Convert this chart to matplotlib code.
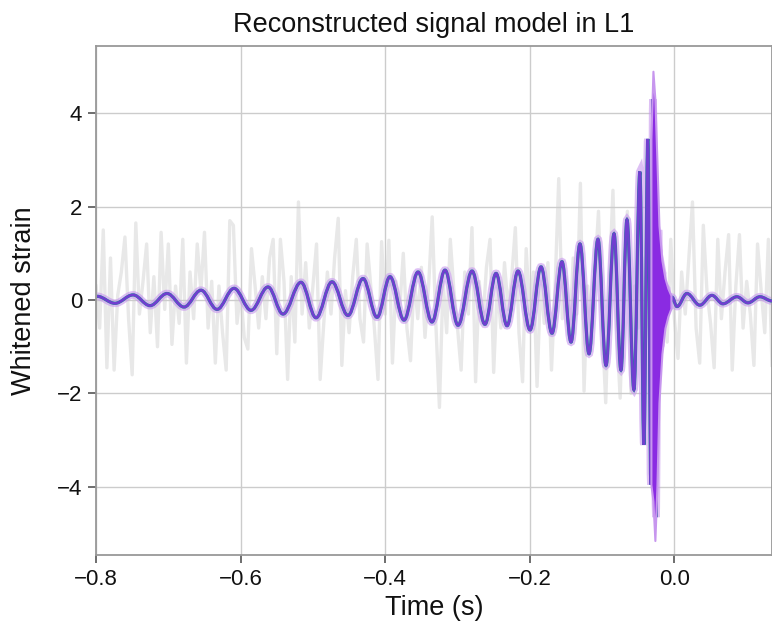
import matplotlib
matplotlib.use("Agg")
import matplotlib.pyplot as plt
import numpy as np
from matplotlib.path import Path
from matplotlib.patches import PathPatch

plt.rcParams['font.family'] = ['Liberation Sans', 'DejaVu Sans']

# whitened L1 data, one value every 5 ms from -0.8 s
data_t0 = -0.8
data_dt = 0.005
data_strain = [
    0.3, -0.6, 1.5, -1.45, 0.9, -1.5, 0.1, 0.6, 1.35, -0.4,
    -1.6, 1.65, -0.3, 0.4, 1.2, -0.7, 0.5, -1.0, 1.45, -0.2,
    1.2, -0.95, 0.3, -0.5, 1.3, -1.35, 0.6, -0.4, 1.2, 0.2,
    1.45, -0.6, 0.4, -1.35, 0.3, -0.7, -1.5, 1.7, 1.6, -0.5,
    0.2, -0.8, -1.05, 1.1, 0.3, -0.6, 0.5, -0.4, 0.9, 1.3,
    -1.15, 1.3, 0.4, -1.7, 0.5, -0.9, 2.1, -0.3, 0.8, -0.6,
    0.3, 1.2, -1.7, -0.5, 0.6, -0.3, 0.9, 1.75, -1.4, 0.2,
    -0.7, 0.5, 1.3, -0.4, -0.9, 1.2, 0.3, -0.6, -1.7, 1.25,
    -0.3, 1.28, -1.35, 0.4, -0.2, 1.0, -0.6, -1.3, 0.5, -0.4,
    0.7, -0.8, 0.3, 1.78, -0.5, -2.3, 0.4, -0.7, 1.3, 0.2,
    -0.6, -1.5, 0.6, -0.3, 1.55, -1.75, 0.4, -0.5, 0.7, 1.3,
    -1.55, 0.3, -0.6, 0.8, -0.2, 0.5, 1.55, -0.7, -1.75, 1.1,
    -0.3, 0.6, -1.85, 0.4, -0.5, 0.8, -1.5, 0.3, 2.6, -0.4,
    0.5, -0.8, 0.9, -0.3, 2.5, -1.95, 0.3, -0.7, 0.6, 1.9,
    -0.5, -2.2, 0.4, 2.35, -0.6, -2.1, 0.5, 1.9, -2.0, 0.3,
    -0.6, 0.9, -0.8, 0.4, -0.3, 1.0, -0.5, 0.6, -0.9, 1.3,
    -0.4, -1.25, 0.6, -0.3, 0.9, 2.1, -0.6, -1.35, 1.6, 0.2,
    -0.5, -1.45, 1.3, -0.4, 0.6, 1.4, -1.5, 0.3, 1.4, -0.6,
    0.4, -0.3, -1.4, 1.2, 0.2, -0.7, 1.3, -1.4,
]

# turning points of the reconstructed waveform (time s, whitened strain)
peak_t = [
    -0.7986, -0.7737, -0.7488, -0.7253, -0.7018, -0.6783, -0.6548, -0.6326,
    -0.6091, -0.5856, -0.5621, -0.5414, -0.5165, -0.4957, -0.4736, -0.4515,
    -0.4307, -0.4113, -0.3934, -0.3740, -0.3546, -0.3353, -0.3173, -0.2993,
    -0.2799, -0.2620, -0.2467, -0.2315, -0.2163, -0.1997, -0.1845, -0.1693,
    -0.1555, -0.1430, -0.1306, -0.1181, -0.1057, -0.0946, -0.0835, -0.0739,
    -0.0656, -0.0560, -0.0477, -0.0422, -0.0367, -0.0325, -0.0297, -0.0256,
    -0.0221, -0.0193, -0.0166, -0.0138, -0.0111, -0.0069, -0.0033, 0.0036,
    0.0173, 0.0352, 0.0519, 0.0671, 0.0865, 0.1017, 0.1183, 0.1350,
]
peak_h = [
    0.08, -0.07, 0.11, -0.12, 0.14, -0.15, 0.21, -0.20,
    0.25, -0.22, 0.28, -0.30, 0.38, -0.38, 0.39, -0.33,
    0.46, -0.37, 0.50, -0.43, 0.60, -0.47, 0.64, -0.54,
    0.62, -0.52, 0.57, -0.55, 0.62, -0.64, 0.71, -0.71,
    0.82, -0.90, 1.20, -1.15, 1.30, -1.40, 1.42, -1.50,
    1.72, -1.92, 2.75, -3.10, 3.45, -3.95, 4.30, -4.65,
    1.50, -1.00, 0.60, -0.40, 0.25, -0.15, 0.06, -0.14,
    0.14, -0.11, 0.10, -0.08, 0.07, -0.06, 0.07, -0.02,
]

# spread of the posterior samples around merger
merger_t = [-0.0325, -0.0297, -0.0270, -0.0242, -0.0214, -0.0173, -0.0131, -0.0090, -0.0048]
merger_hi = [3.45, 4.9, 4.3, 3.0, 1.6, 0.85, 0.47, 0.25, 0.10]
merger_lo = [-3.95, -4.3, -5.15, -4.0, -2.2, -1.15, -0.6, -0.35, -0.18]


def wave_path(ts, hs, k=0.364):
    # smooth half cycles between turning points (horizontal tangents)
    verts = [(ts[0], hs[0])]
    codes = [Path.MOVETO]
    for i in range(1, len(ts)):
        d = ts[i] - ts[i - 1]
        verts += [(ts[i - 1] + k * d, hs[i - 1]), (ts[i] - k * d, hs[i]), (ts[i], hs[i])]
        codes += [Path.CURVE4] * 3
    return Path(verts, codes)


fig = plt.figure(figsize=(7.72, 6.25), dpi=100)
ax = fig.add_axes([0.1244, 0.112, 0.8756, 0.8144])

t_data = data_t0 + data_dt * np.arange(len(data_strain))
ax.plot(t_data, data_strain, color='#e8e8e8', lw=2.4, zorder=0.4)

wp = wave_path(peak_t, peak_h)
ax.add_patch(PathPatch(wp, fill=False, ec='#c796ee', lw=5.5, alpha=0.6, zorder=2))
ax.add_patch(PathPatch(wp, fill=False, ec='#128a8c', lw=2.3, zorder=3))
ax.add_patch(PathPatch(wp, fill=False, ec='#8a2be2', lw=1.9, alpha=0.8, zorder=4))
ax.fill_between(merger_t, merger_lo, merger_hi, color='#8a2be2', ec='#c796ee', lw=1.5, zorder=4)

ax.set_xlim(-0.8, 0.135)
ax.set_ylim(-5.46, 5.44)
ax.set_xticks([-0.8, -0.6, -0.4, -0.2, 0.0])
ax.set_yticks([-4, -2, 0, 2, 4])

ax.grid(True, color='#cccccc', lw=1.0)
ax.set_axisbelow(True)
for s in ax.spines.values():
    s.set_color('#999999')
    s.set_linewidth(1.3)

ax.tick_params(direction='out', length=6, width=1.2, color='#555555',
               labelsize=16, labelcolor='#111111', pad=4)
ax.set_xlabel('Time (s)', fontsize=19.5, color='#111111', labelpad=4)
ax.set_ylabel('Whitened strain', fontsize=19.5, color='#111111', labelpad=14)
ax.set_title('Reconstructed signal model in L1', fontsize=19.5, color='#111111', pad=10)

fig.savefig('out.png', dpi=100)
